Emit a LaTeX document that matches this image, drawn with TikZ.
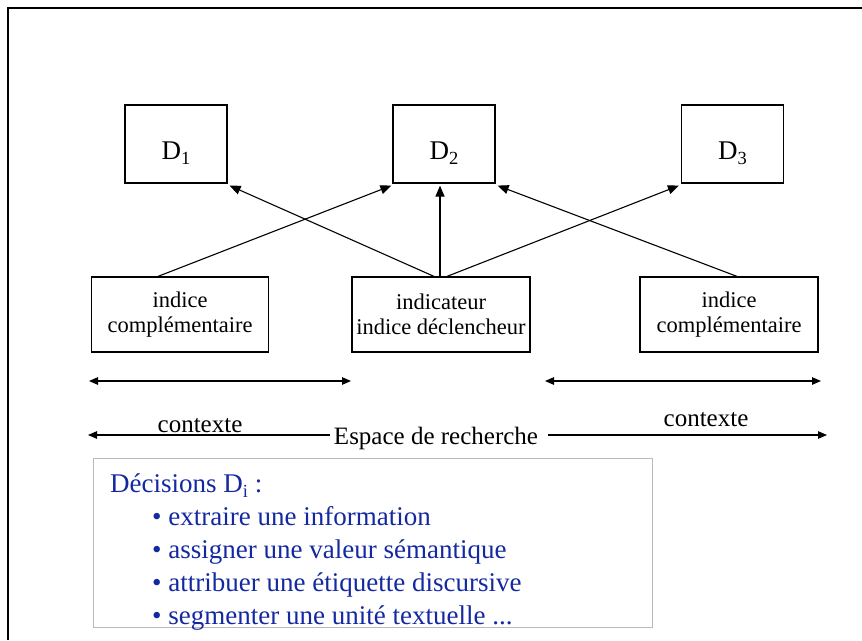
\documentclass[tikz,border=0pt]{standalone}
\usepackage{fontspec}
\setmainfont{Liberation Serif}
\usetikzlibrary{arrows.meta,calc}
\definecolor{itemblue}{RGB}{20,40,160}
\definecolor{framegray}{RGB}{185,185,185}
% lowered index in the style of slide text
\newcommand{\dsub}[1]{\raisebox{-0.2em}{\fontsize{18.5}{18.5}\selectfont #1}}
\begin{document}
\begin{tikzpicture}[x=1pt,y=-1pt,
  dbox/.style={draw,line width=1.2pt,minimum width=102pt,minimum height=78pt,
    inner sep=0pt,font=\fontsize{27}{30}\selectfont,text height=31pt,text depth=0pt},
  cuebox/.style={draw,line width=1.2pt,minimum width=177pt,minimum height=75pt,
    inner sep=0pt,align=center,font=\fontsize{22.5}{25.5}\selectfont},
  arr/.style={line width=1.1pt,-{Triangle[length=11pt,width=9pt]}},
  dblarr/.style={line width=1.1pt,{Triangle[length=9pt,width=7.5pt]}-{Triangle[length=9pt,width=7.5pt]}},
  lbl/.style={font=\fontsize{25}{28}\selectfont,inner sep=0pt,anchor=base},
  blue/.style={text=itemblue,font=\fontsize{27}{30}\selectfont,inner sep=0pt,anchor=base west}]
\useasboundingbox (0,0) rectangle (862,640);
% outer slide frame
\draw[line width=2pt] (8,640) -- (8,8) -- (862,8);

% decision boxes
\node[dbox] (d1) at (176,144) {D\dsub{1}};
\node[dbox] (d2) at (444,144) {D\dsub{2}};
\node[dbox] (d3) at (732.5,144) {D\dsub{3}};

% cue boxes
\node[cuebox] (left) at (180,314.5) {indice\\complémentaire};
\node[cuebox,minimum width=178pt] (mid) at (441,314.5) {indicateur\\indice déclencheur};
\node[cuebox,minimum width=178pt] (right) at (729,314.5) {indice\\complémentaire};

% connectors
\draw[arr] ($(left.north)+(-22,0)$) -- ($(d2.south west)+(-1,2)$);
\draw[arr] ($(mid.north)+(-7,0)$) -- ($(d1.south east)+(2,2)$);
\coordinate (vbase) at ($(mid.north)+(-1,0)$);
\coordinate (vtip) at ($(d2.south)+(0,2)$);
\draw[arr] (vbase) -- (vbase |- vtip);
\draw[arr] ($(mid.north)+(6,0)$) -- ($(d3.south west)+(-2,2)$);
\draw[arr] ($(right.north)+(8,0)$) -- ($(d2.south east)+(2,2)$);

% context spans
\coordinate (cl1) at (89,381);
\coordinate (cl2) at (351,381);
\coordinate (cr1) at (545,381);
\coordinate (cr2) at (821,381);
\draw[dblarr] (cl1) -- (cl2);
\draw[dblarr] (cr1) -- (cr2);

% search space axis, interrupted by its label
\node[lbl] (esp) at (436,444) {Espace de recherche};
\coordinate (s1) at (88,435);
\coordinate (s2) at (827,435);
\coordinate (sgapl) at (330,435);
\coordinate (sgapr) at (548,435);
\draw[line width=1.1pt,{Triangle[length=9pt,width=7.5pt]}-] (s1) -- (sgapl);
\draw[line width=1.1pt,-{Triangle[length=9pt,width=7.5pt]}] (sgapr) -- (s2);
\node[lbl] (ctxl) at (200,432) {contexte};
\node[lbl] (ctxr) at (706,426) {contexte};

% decisions panel
\node[draw=framegray,line width=1.3pt,minimum width=559pt,minimum height=169pt,
  inner sep=0pt,anchor=north west] (panel) at (93,458) {};
\node[blue] (dtitle) at (110,492) {Décisions D\dsub{i} :};
\node[blue] (it1) at (152,525) {• extraire une information};
\node[blue] (it2) at (152,558) {• assigner une valeur sémantique};
\node[blue] (it3) at (152,591.5) {• attribuer une étiquette discursive};
\node[blue] (it4) at (152,624.5) {• segmenter une unité textuelle ...};
\end{tikzpicture}
\end{document}
